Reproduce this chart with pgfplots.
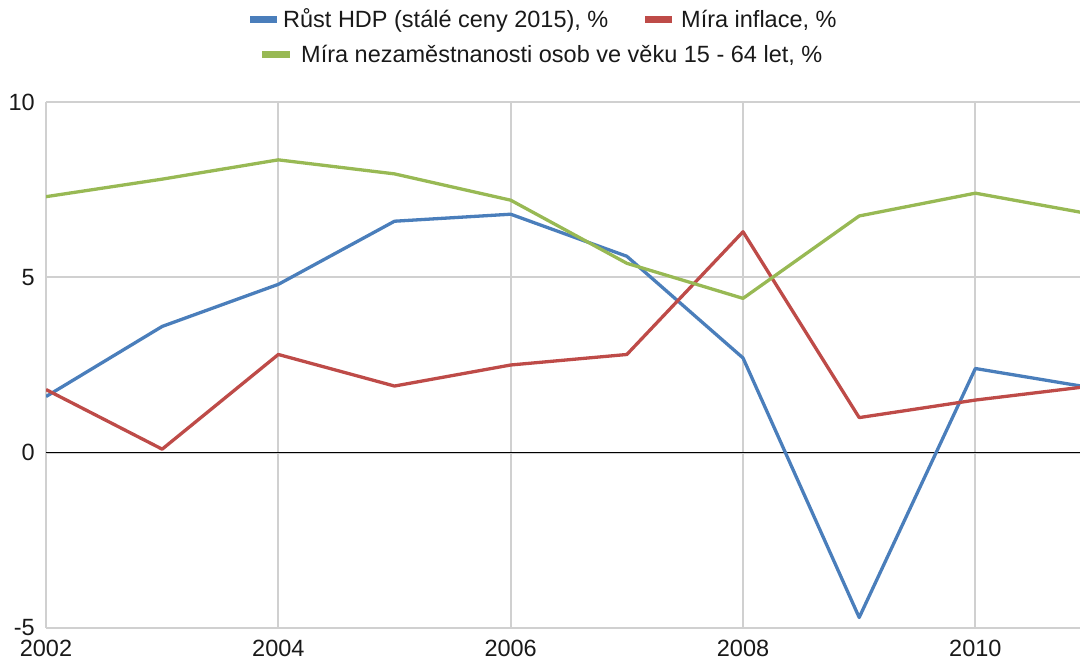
\documentclass[border=0pt]{standalone}
\usepackage{pgfplots}
\pgfplotsset{compat=1.18}
\usepackage{fontspec}
\setmainfont{Liberation Sans}
\definecolor{cblue}{HTML}{4A7EBB}
\definecolor{cred}{HTML}{BE4B48}
\definecolor{cgreen}{HTML}{98B954}
\definecolor{cgrid}{HTML}{D0D0D0}
\begin{document}
\begin{tikzpicture}[x=1pt,y=1pt,font=\fontsize{23.5}{28}\selectfont]
\useasboundingbox (0,0) rectangle (1080,662);
\begin{axis}[
  at={(46pt,34pt)}, anchor=south west,
  scale only axis, width=1034pt, height=526pt,
  xmin=2002, xmax=2010.9, ymin=-5, ymax=10,
  xtick={2002,2004,2006,2008,2010},
  ytick={-5,0,5,10},
  xticklabels={2002,2004,2006,2008,2010},
  yticklabels={-5,0,5,10},
  grid=major, major grid style={cgrid, line width=2pt},
  axis line style={draw=none},
  major tick length=0pt,
  tick label style={inner sep=0pt, font=\fontsize{23.5}{28}\selectfont, text=black!90},
  yticklabel shift=11pt,
  xticklabel shift=12pt,
  clip=true,
]
\draw[black, line width=1.2pt] (axis cs:2002,0) -- (axis cs:2010.9,0);
\addplot[cblue, line width=3.3pt, line join=round] coordinates {(2002,1.6)(2003,3.6)(2004,4.8)(2005,6.6)(2006,6.8)(2007,5.6)(2008,2.7)(2009,-4.7)(2010,2.4)(2011,1.85)};
\addplot[cred, line width=3.3pt, line join=round] coordinates {(2002,1.8)(2003,0.1)(2004,2.8)(2005,1.9)(2006,2.5)(2007,2.8)(2008,6.3)(2009,1.0)(2010,1.5)(2011,1.9)};
\addplot[cgreen, line width=3.3pt, line join=round] coordinates {(2002,7.3)(2003,7.8)(2004,8.35)(2005,7.95)(2006,7.2)(2007,5.4)(2008,4.4)(2009,6.75)(2010,7.4)(2011,6.8)};
\end{axis}
% legend
\fill[cblue] (250,638.5) rectangle (277,645.5);
\node[anchor=west, inner sep=0pt, text=black!90] at (283,642) {Růst HDP (stálé ceny 2015), \%};
\fill[cred] (645,638.5) rectangle (672,645.5);
\node[anchor=west, inner sep=0pt, text=black!90] at (681,642) {Míra inflace, \%};
\fill[cgreen] (262,603.5) rectangle (290,610.5);
\node[anchor=west, inner sep=0pt, text=black!90] at (301,607) {Míra nezaměstnanosti osob ve věku 15 - 64 let, \%};
\end{tikzpicture}
\end{document}
